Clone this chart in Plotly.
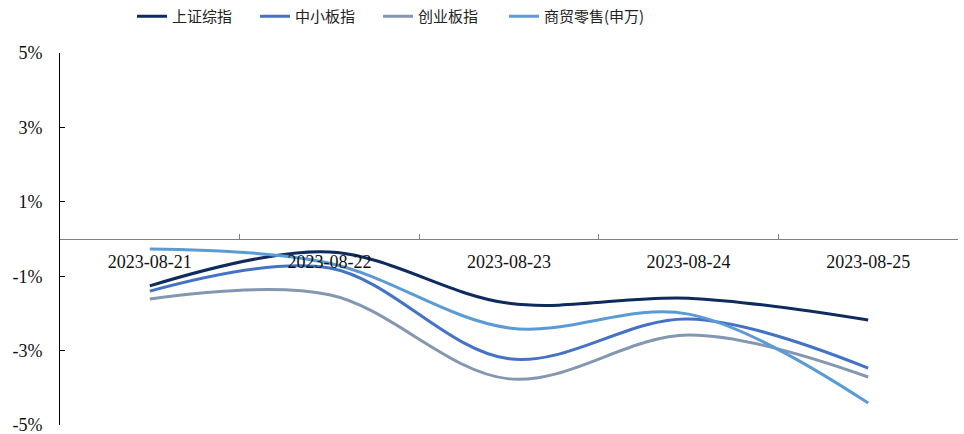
import plotly.graph_objects as go

# Daily returns (%) for the week of 2023-08-21
dates = ["2023-08-21", "2023-08-22", "2023-08-23", "2023-08-24", "2023-08-25"]
sh_composite = [-1.26, -0.35, -1.73, -1.59, -2.18]
sme_board = [-1.40, -0.78, -3.22, -2.15, -3.47]
chinext = [-1.61, -1.50, -3.76, -2.58, -3.71]
retail = [-0.27, -0.65, -2.39, -2.02, -4.41]

series_names = ["上证综指", "中小板指", "创业板指", "商贸零售(申万)"]
series_values = [sh_composite, sme_board, chinext, retail]
series_colors = ["#0E2A5E", "#4472C4", "#8497B0", "#5B9BD5"]
# the long sector name gets its own legend box so the fixed entry width
# used for the three index entries does not clip it
series_legends = ["legend", "legend", "legend", "legend2"]

y_ticks = [5, 3, 1, -1, -3, -5]
y_tick_text = [f"{v}%" for v in y_ticks]

serif = "Liberation Serif, Times New Roman, serif"
cjk = "Noto Sans CJK SC, sans-serif"
legend_font = dict(family=cjk, size=15, color="#222222")

fig = go.Figure()
for name, vals, color, lg in zip(series_names, series_values, series_colors, series_legends):
    fig.add_trace(go.Scatter(
        x=dates, y=vals, name=name, mode="lines", legend=lg,
        line=dict(color=color, width=3, shape="spline", smoothing=1.0),
    ))

fig.update_layout(
    width=964, height=434,
    margin=dict(l=60, r=6, t=53, b=9, autoexpand=False),
    plot_bgcolor="white", paper_bgcolor="white",
    showlegend=True,
    legend=dict(
        orientation="h", x=132 / 964, xanchor="left", xref="container",
        y=1.0, yanchor="top", yref="container",
        font=legend_font,
        entrywidth=78, entrywidthmode="pixels",
        bgcolor="rgba(0,0,0,0)",
    ),
    legend2=dict(
        orientation="h", x=504 / 964, xanchor="left", xref="container",
        y=1.0, yanchor="top", yref="container",
        font=legend_font,
        bgcolor="rgba(0,0,0,0)",
    ),
    xaxis=dict(
        type="category", anchor="free", position=0.5,
        showline=True, linecolor="#808080", linewidth=1.3,
        ticks="inside", ticklen=5, tickcolor="#808080", tickson="boundaries",
        showgrid=False, zeroline=False, automargin=False,
        tickfont=dict(family=serif, size=18, color="#111111"),
        ticklabelstandoff=6,
        range=[-0.5, 4.5],
    ),
    yaxis=dict(
        range=[-5, 5], tickvals=y_ticks, ticktext=y_tick_text,
        showline=True, linecolor="#000000", linewidth=1,
        ticks="inside", ticklen=5, tickcolor="#000000",
        showgrid=False, zeroline=False, automargin=False,
        tickfont=dict(family=serif, size=18, color="#111111"),
        ticklabelstandoff=13, ticklabeloverflow="allow",
    ),
)

fig.write_html("out.html")
